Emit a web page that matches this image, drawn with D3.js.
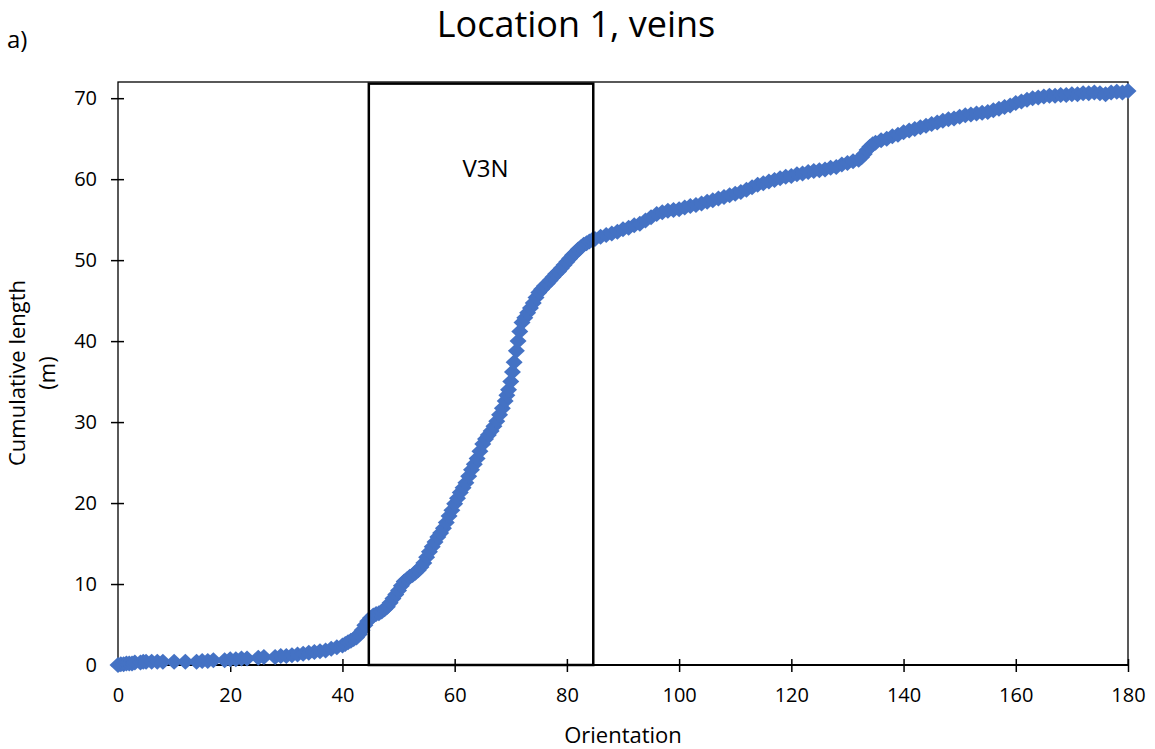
<!DOCTYPE html>
<html>
<head>
<meta charset="utf-8">
<script src="https://cdn.jsdelivr.net/npm/d3@7"></script>
<style>
  body { margin: 0; background: #fff; }
  svg { font-family: "Open Sans", "Liberation Sans", sans-serif; }
</style>
</head>
<body>
<div id="chart"></div>
<script>
// Orientation (deg) and cumulative length (m)
var orientation = [
  0, 0.5, 1, 1.5, 2, 2.5, 3, 4, 4.5, 5, 6, 7, 8, 10, 12, 14, 15, 16, 17, 19,
  20, 21, 22, 23, 25, 26, 28, 29, 30, 31, 32, 33, 34, 35, 36, 37, 38, 39, 40, 40.5,
  41, 41.5, 42, 42.5, 43, 43.5, 44, 44.5, 45, 45.5, 46, 46.5, 47, 47.5, 48, 48.5, 49, 49.5,
  50, 50.5, 51, 51.5, 52, 52.5, 53, 53.5, 54, 54.5, 55, 55.5, 56, 56.5, 57, 57.5, 58, 58.5,
  59, 59.5, 60, 60.5, 61, 61.5, 62, 62.5, 63, 63.5, 64, 64.5, 65, 65.5, 66, 66.5, 67, 67.5,
  68, 68.5, 69, 69.3, 69.6, 70, 70.3, 70.6, 71, 71.3, 71.6, 72, 72.5, 73, 73.5, 74, 74.5, 75,
  75.5, 76, 76.5, 77, 77.5, 78, 78.5, 79, 79.5, 80, 80.5, 81, 81.5, 82, 82.5, 83, 83.5, 84,
  84.5, 85, 86, 87, 88, 89, 90, 91, 92, 93, 94, 95, 96, 97, 98, 99, 100, 101, 102, 103,
  104, 105, 106, 107, 108, 109, 110, 111, 112, 113, 114, 115, 116, 117, 118, 119, 120, 121, 122, 123,
  124, 125, 126, 127, 128, 129, 130, 131, 132, 132.5, 133, 133.5, 134, 134.5, 135, 136, 137, 138, 139, 140,
  141, 142, 143, 144, 145, 146, 147, 148, 149, 150, 151, 152, 153, 154, 155, 156, 157, 158, 159, 160,
  161, 162, 163, 164, 165, 166, 167, 168, 169, 170, 171, 172, 173, 174, 175, 176, 177, 178, 179, 180
];
var cumulativeLength = [
  0.0, 0.1, 0.1, 0.2, 0.2, 0.2, 0.3, 0.3, 0.4, 0.4, 0.4, 0.4, 0.4, 0.4, 0.4, 0.4, 0.5, 0.5, 0.6, 0.6,
  0.7, 0.7, 0.8, 0.8, 0.9, 1.0, 1.0, 1.1, 1.1, 1.2, 1.3, 1.4, 1.5, 1.6, 1.7, 1.8, 2.0, 2.2, 2.4, 2.6,
  2.8, 3.0, 3.2, 3.4, 3.8, 4.3, 4.9, 5.4, 5.8, 6.1, 6.3, 6.4, 6.6, 6.9, 7.2, 7.7, 8.2, 8.7,
  9.2, 9.8, 10.3, 10.6, 10.9, 11.1, 11.4, 11.7, 12.1, 12.6, 13.3, 14.0, 14.6, 15.2, 15.8, 16.3, 16.9, 17.6,
  18.4, 19.1, 19.9, 20.6, 21.3, 21.9, 22.5, 23.3, 24.1, 24.8, 25.5, 26.4, 27.3, 27.9, 28.4, 28.9, 29.5, 30.1,
  30.9, 31.7, 32.6, 33.3, 34.0, 35.0, 36.2, 37.4, 38.8, 40.0, 41.2, 42.3, 42.9, 43.5, 44.1, 44.7, 45.4, 46.0,
  46.4, 46.8, 47.1, 47.5, 47.9, 48.3, 48.6, 49.0, 49.4, 49.8, 50.2, 50.6, 50.9, 51.3, 51.6, 51.9, 52.1, 52.3,
  52.5, 52.6, 52.9, 53.1, 53.3, 53.5, 53.8, 54.0, 54.3, 54.5, 54.9, 55.3, 55.7, 55.9, 56.1, 56.2, 56.3, 56.5, 56.7, 56.8,
  57.0, 57.2, 57.4, 57.6, 57.8, 58.0, 58.2, 58.4, 58.7, 59.0, 59.3, 59.5, 59.7, 59.9, 60.1, 60.3, 60.4, 60.6, 60.7, 60.9,
  61.0, 61.1, 61.2, 61.4, 61.5, 61.8, 62.0, 62.2, 62.4, 62.7, 63.1, 63.6, 64.0, 64.3, 64.5, 64.8, 65.0, 65.3, 65.5, 65.8,
  66.0, 66.2, 66.4, 66.6, 66.8, 67.0, 67.2, 67.4, 67.5, 67.7, 67.9, 68.0, 68.1, 68.2, 68.3, 68.5, 68.7, 68.9, 69.1, 69.4,
  69.6, 69.8, 70.0, 70.1, 70.2, 70.3, 70.3, 70.4, 70.4, 70.5, 70.5, 70.6, 70.6, 70.7, 70.6, 70.5, 70.7, 70.8, 70.7, 70.9
];
var xTicks = [0, 20, 40, 60, 80, 100, 120, 140, 160, 180];
var yTicks = [0, 10, 20, 30, 40, 50, 60, 70];
var boxRange = [44.7, 84.7];     // V3N window (orientation)
var boxTop = 71.8;

var width = 1155, height = 749;
var margin = {top: 82, right: 27, bottom: 84, left: 118};
var w = width - margin.left - margin.right,
    h = height - margin.top - margin.bottom;

var xScale = d3.scaleLinear().domain([0, 180]).range([0, w]);
var yScale = d3.scaleLinear().domain([0, 72]).range([h, 0]);

var svg = d3.select("#chart").append("svg")
    .attr("width", width)
    .attr("height", height);

// Title and panel letter
svg.append("text")
    .attr("x", 576).attr("y", 37)
    .attr("text-anchor", "middle")
    .attr("font-size", 36)
    .text("Location 1, veins");

svg.append("text")
    .attr("x", 7).attr("y", 48)
    .attr("font-size", 24)
    .text("a)");

var g = svg.append("g")
    .attr("transform", "translate(" + margin.left + "," + margin.top + ")");

// Plot area border
g.append("rect")
    .attr("x", 0).attr("y", 0)
    .attr("width", w).attr("height", h)
    .attr("fill", "none")
    .attr("stroke", "#000")
    .attr("stroke-width", 1.3);

// Axes
var xAxis = d3.axisBottom(xScale).tickValues(xTicks).tickSize(0).tickPadding(23);
var yAxis = d3.axisLeft(yScale).tickValues(yTicks).tickSize(0).tickPadding(21);

var gx = g.append("g").attr("class", "x axis")
    .attr("transform", "translate(0," + h + ")")
    .call(xAxis);
var gy = g.append("g").attr("class", "y axis").call(yAxis);

g.selectAll(".domain").remove();
g.selectAll(".tick text").attr("font-size", 20).attr("fill", "#000")
    .style("font-family", "'Open Sans', 'Liberation Sans', sans-serif");
gx.selectAll(".tick text").attr("dy", "0.71em");

// Crossing tick marks
gx.selectAll(".tick").append("line")
    .attr("y1", -6).attr("y2", 7)
    .attr("stroke", "#000").attr("stroke-width", 1.5);
gy.selectAll(".tick").append("line")
    .attr("x1", -7).attr("x2", 6)
    .attr("stroke", "#000").attr("stroke-width", 1.5);

// Bottom axis line
g.append("line")
    .attr("x1", 0).attr("x2", w)
    .attr("y1", h).attr("y2", h)
    .attr("stroke", "#000").attr("stroke-width", 1.8);

// Axis titles
svg.append("text")
    .attr("x", margin.left + w / 2).attr("y", 743)
    .attr("text-anchor", "middle")
    .attr("font-size", 22)
    .text("Orientation");

var yTitle = svg.append("text")
    .attr("transform", "translate(25,373) rotate(-90)")
    .attr("text-anchor", "middle")
    .attr("font-size", 22);
yTitle.append("tspan").attr("x", 0).attr("dy", 0).text("Cumulative length");
yTitle.append("tspan").attr("x", 0).attr("dy", 30).text("(m)");

// Data points (diamonds)
var points = orientation.map(function(d, i) { return {x: d, y: cumulativeLength[i]}; });

g.append("g").attr("class", "points")
  .selectAll("path")
  .data(points)
  .enter().append("path")
    .attr("transform", function(d) { return "translate(" + xScale(d.x) + "," + yScale(d.y) + ")"; })
    .attr("d", "M0,-8L8.5,0L0,8L-8.5,0Z")
    .attr("fill", "#4472C4");

// V3N box
g.append("rect")
    .attr("x", xScale(boxRange[0]))
    .attr("y", yScale(boxTop))
    .attr("width", xScale(boxRange[1]) - xScale(boxRange[0]))
    .attr("height", yScale(0) - yScale(boxTop))
    .attr("fill", "none")
    .attr("stroke", "#000")
    .attr("stroke-width", 2.5);

g.append("text")
    .attr("x", xScale(65.5)).attr("y", yScale(60.3))
    .attr("text-anchor", "middle")
    .attr("font-size", 24)
    .text("V3N");
</script>
</body>
</html>
